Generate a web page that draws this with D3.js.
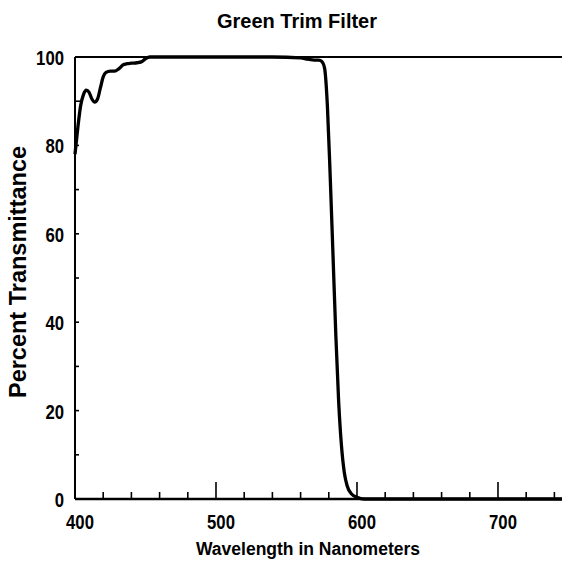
<!DOCTYPE html>
<html>
<head>
<meta charset="utf-8">
<script src="https://cdn.jsdelivr.net/npm/d3@7"></script>
<style>
  html, body { margin: 0; padding: 0; background: #fff; }
  svg { display: block; }
  .t { font-family: "Liberation Sans", Arial, sans-serif; font-weight: bold; fill: #000; }
  .n { font-family: "Liberation Sans", Arial, sans-serif; font-weight: bold; fill: #000; }
</style>
</head>
<body>
<script>
// ---- data ----
const title = "Green Trim Filter";
const xTitle = "Wavelength in Nanometers";
const yTitle = "Percent Transmittance";
const xTickLabels = [400, 500, 600, 700];
const yTickLabels = [0, 20, 40, 60, 80, 100];
const wavelength = [400, 402, 404, 406, 408, 410, 412, 414, 416, 418, 420, 422, 425, 428, 431, 434, 437, 440, 444, 447, 450, 453, 460, 500, 540, 560, 565, 570, 573, 575, 577, 579, 581, 583, 585, 587, 589, 591, 593, 596, 600, 605, 650, 700, 750];
const transmittance = [78, 84, 89, 91.5, 92.5, 92, 90.5, 89.8, 90.5, 93, 95.5, 96.5, 96.8, 96.8, 97.3, 98.2, 98.5, 98.6, 98.7, 98.9, 99.6, 100, 100, 100, 100, 99.8, 99.5, 99.3, 99.3, 99, 97.5, 89, 73, 55, 37, 22, 12, 6, 3, 1.2, 0.4, 0, 0, 0, 0];

// ---- layout ----
const W = 562, H = 565;
const mL = 75, mR = 562, mT = 57, mB = 499;
const x = d3.scaleLinear().domain([400, 745.4]).range([mL, mR]);
const y = d3.scaleLinear().domain([0, 100]).range([mB, mT]);

const svg = d3.select("body").append("svg").attr("width", W).attr("height", H);

// frame: top line, left axis, bottom axis
svg.append("line").attr("x1", mL).attr("x2", mR).attr("y1", y(100)).attr("y2", y(100))
  .attr("stroke", "#000").attr("stroke-width", 2);
svg.append("line").attr("x1", mL).attr("x2", mL).attr("y1", mT).attr("y2", mB)
  .attr("stroke", "#000").attr("stroke-width", 2);
svg.append("line").attr("x1", mL).attr("x2", mR).attr("y1", mB).attr("y2", mB)
  .attr("stroke", "#000").attr("stroke-width", 2.5);

// x ticks (inward)
const xMinor = d3.range(420, 745, 20);
svg.append("g").selectAll("line").data(xMinor).join("line")
  .attr("x1", d => x(d)).attr("x2", d => x(d))
  .attr("y1", mB).attr("y2", d => mB - (d % 100 === 0 ? 17 : 7))
  .attr("stroke", "#000").attr("stroke-width", 1.6);

// y ticks (inward)
const yMinor = d3.range(10, 100, 10);
svg.append("g").selectAll("line").data(yMinor).join("line")
  .attr("x1", mL).attr("x2", d => mL + (d === 90 ? 7 : 4))
  .attr("y1", d => y(d)).attr("y2", d => y(d))
  .attr("stroke", "#000").attr("stroke-width", 1.6);

// tick labels (condensed digits)
svg.append("g").selectAll("text").data(xTickLabels).join("text")
  .attr("class", "n").attr("font-size", 21)
  .attr("x", d => x(d) + 5).attr("y", 529).attr("text-anchor", "middle")
  .attr("textLength", d => String(d).length * 9.3).attr("lengthAdjust", "spacingAndGlyphs")
  .text(d => d);
svg.append("g").selectAll("text").data(yTickLabels).join("text")
  .attr("class", "n").attr("font-size", 21)
  .attr("x", 64).attr("y", d => y(d) + 8).attr("text-anchor", "end")
  .attr("textLength", d => String(d).length * 9.3).attr("lengthAdjust", "spacingAndGlyphs")
  .text(d => d);

// curve
const pts = wavelength.map((w, i) => [w, transmittance[i]]);
const line = d3.line().x(d => x(d[0])).y(d => y(d[1])).curve(d3.curveMonotoneX);
svg.append("path").datum(pts).attr("d", line)
  .attr("fill", "none").attr("stroke", "#000").attr("stroke-width", 3.3).attr("stroke-linejoin", "round");

// titles
svg.append("text").attr("class", "t").attr("font-size", 20)
  .attr("x", 297).attr("y", 28).attr("text-anchor", "middle").text(title);
svg.append("text").attr("class", "t").attr("font-size", 17.5)
  .attr("x", 308).attr("y", 555).attr("text-anchor", "middle").text(xTitle);
svg.append("text").attr("class", "t").attr("font-size", 23.5)
  .attr("transform", "translate(26,272) rotate(-90)").attr("text-anchor", "middle").text(yTitle);
</script>
</body>
</html>
